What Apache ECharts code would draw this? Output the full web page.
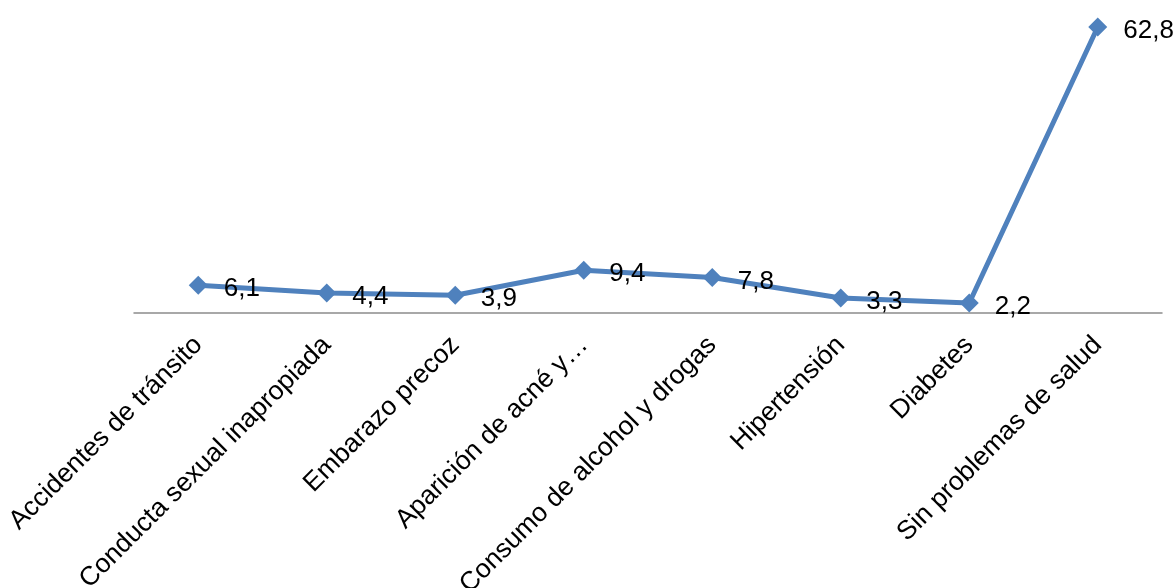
<!DOCTYPE html>
<html>
<head>
<meta charset="utf-8">
<script src="https://cdn.jsdelivr.net/npm/echarts@6/dist/echarts.min.js"></script>
<style>
  html, body { margin: 0; padding: 0; background: #ffffff; }
  #chart { width: 1176px; height: 588px; }
</style>
</head>
<body>
<div id="chart"></div>
<script>
// Health problems (percent of respondents)
const categories = [
  'Accidentes de tránsito',
  'Conducta sexual inapropiada',
  'Embarazo precoz',
  'Aparición de acné y…',
  'Consumo de alcohol y drogas',
  'Hipertensión',
  'Diabetes',
  'Sin problemas de salud'
];
const values = [6.1, 4.4, 3.9, 9.4, 7.8, 3.3, 2.2, 62.8];

const chart = echarts.init(document.getElementById('chart'), null, { renderer: 'canvas' });

chart.setOption({
  animation: false,
  backgroundColor: '#ffffff',
  textStyle: { fontFamily: '"Liberation Sans", Arial, sans-serif' },
  grid: {
    left: 134, right: 14, top: 27, bottom: 275,
    containLabel: false,
    outerBoundsMode: 'none'
  },
  xAxis: {
    type: 'category',
    data: categories,
    boundaryGap: true,
    axisLine: { show: true, lineStyle: { color: '#8c8c8c', width: 1.5 } },
    axisTick: { show: false },
    splitLine: { show: false },
    axisLabel: {
      interval: 0,
      rotate: 45,
      margin: 28,
      color: '#000000',
      fontSize: 26.5,
      fontFamily: '"Liberation Sans", Arial, sans-serif',
      hideOverlap: false
    }
  },
  yAxis: {
    type: 'value',
    min: 0,
    max: 62.8,
    show: false,
    splitLine: { show: false }
  },
  series: [{
    type: 'line',
    data: values,
    symbol: 'diamond',
    symbolSize: 19,
    lineStyle: { color: '#4f81bd', width: 5 },
    itemStyle: { color: '#4f81bd' },
    label: {
      show: true,
      position: 'right',
      distance: 16,
      offset: [0, 4],
      color: '#000000',
      fontSize: 26,
      fontFamily: '"Liberation Sans", Arial, sans-serif',
      formatter: p => String(p.value).replace('.', ',')
    }
  }]
});
</script>
</body>
</html>
